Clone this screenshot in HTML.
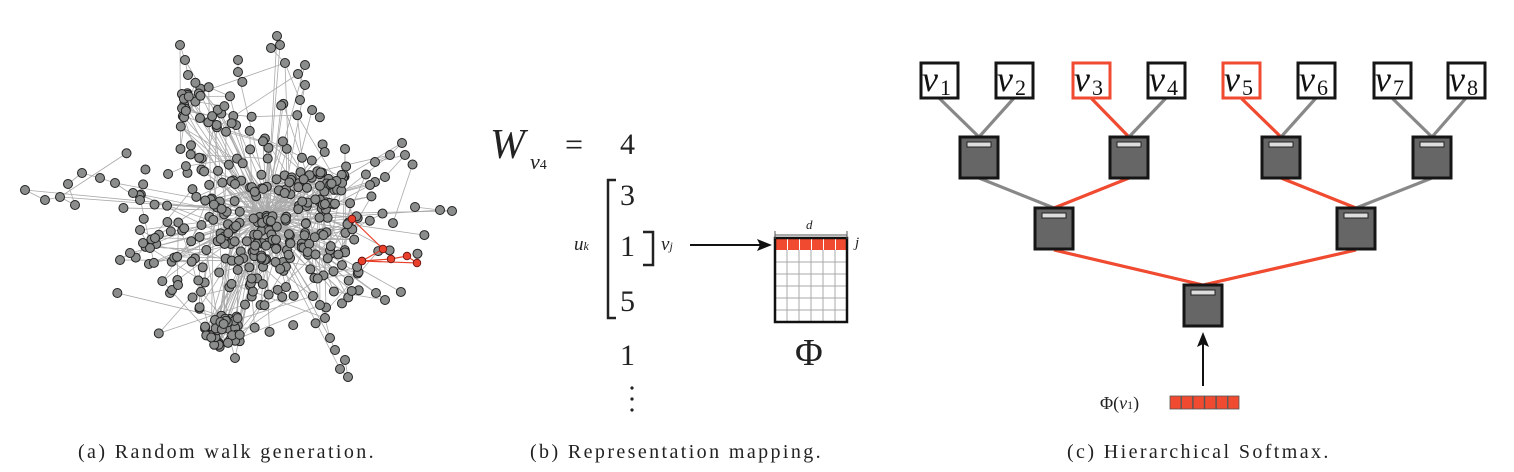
<!DOCTYPE html>
<html><head><meta charset="utf-8">
<style>
html,body{margin:0;padding:0;background:#fff;}
body{width:1514px;height:472px;position:relative;overflow:hidden;font-family:"Liberation Serif",serif;color:#222;}
.t{position:absolute;white-space:nowrap;line-height:1;}
.cap{position:absolute;top:441px;font-size:20px;letter-spacing:2.4px;white-space:nowrap;}
</style></head><body>
<svg id="g" width="1514" height="472" style="position:absolute;left:0;top:0">
<g id="graph"></g>
<g fill="none" stroke="#222" stroke-width="2.5">
<path d="M616,180 H608 V318 H616"/>
<path d="M643,232 H653 V265 H643"/>
</g>
<line x1="690" y1="245" x2="762" y2="245" stroke="#111" stroke-width="2"/>
<polygon points="772,245 757,239 760,245 757,251" fill="#111"/>
<g id="mat"></g>
<line x1="775" y1="235" x2="847" y2="235" stroke="#555" stroke-width="1"/>
<line x1="775" y1="231" x2="775" y2="239" stroke="#555"/>
<line x1="847" y1="231" x2="847" y2="239" stroke="#555"/>
<circle cx="632" cy="388" r="1.6" fill="#222"/><circle cx="632" cy="399" r="1.6" fill="#222"/><circle cx="632" cy="410" r="1.6" fill="#222"/>
<g id="tree"></g>
<line x1="1203" y1="386" x2="1203" y2="342" stroke="#111" stroke-width="2"/>
<polygon points="1203,332 1197,347 1203,344 1209,347" fill="#111"/>
</svg>

<div class="t" style="left:490px;top:124px;font-size:42px;font-style:italic;">W</div>
<div class="t" style="left:530px;top:151px;font-size:22px;font-style:italic;">v<span style="font-size:14px;font-style:normal">4</span></div>
<div class="t" style="left:565px;top:128px;font-size:32px;">=</div>
<div class="t" style="left:620px;top:130px;font-size:30px;">4</div>
<div class="t" style="left:620px;top:181px;font-size:30px;">3</div>
<div class="t" style="left:620px;top:232px;font-size:30px;">1</div>
<div class="t" style="left:620px;top:287px;font-size:30px;">5</div>
<div class="t" style="left:620px;top:341px;font-size:30px;">1</div>
<div class="t" style="left:574px;top:235px;font-size:19px;font-style:italic;">u<span style="font-size:12px">k</span></div>
<div class="t" style="left:661px;top:235px;font-size:19px;font-style:italic;">v<span style="font-size:12px">j</span></div>
<div class="t" style="left:806px;top:218px;font-size:13px;font-style:italic;">d</div>
<div class="t" style="left:855px;top:236px;font-size:15px;font-style:italic;">j</div>
<div class="t" style="left:795px;top:334px;font-size:38px;">Φ</div>
<div class="t" style="left:1100px;top:394px;font-size:18px;">Φ(<i>v</i><span style="font-size:12px">1</span>)</div>

<div class="cap" style="left:78px;">(a) Random walk generation.</div>
<div class="cap" style="left:530px;">(b) Representation mapping.</div>
<div class="cap" style="left:1067px;">(c) Hierarchical Softmax.</div>

<script>
var NS="http://www.w3.org/2000/svg";
function el(p,n,a){var e=document.createElementNS(NS,n);for(var k in a)e.setAttribute(k,a[k]);p.appendChild(e);return e;}
var m=document.getElementById('mat');
el(m,'rect',{x:775,y:238,width:72,height:84,fill:'#fff'});
for(var i=1;i<6;i++){el(m,'line',{x1:775+i*12,y1:250,x2:775+i*12,y2:322,stroke:'#aaa'});}
for(var j=1;j<6;j++){el(m,'line',{x1:775,y1:250+j*12,x2:847,y2:250+j*12,stroke:'#aaa'});}
for(var i=0;i<6;i++){el(m,'rect',{x:776+i*12,y:239,width:11,height:11,fill:'#f04a30'});}
el(m,'rect',{x:775,y:238,width:72,height:84,fill:'none',stroke:'#111','stroke-width':2.5});
var t=document.getElementById('tree');
var leaves=[939,1014,1091,1166,1241,1316,1392,1466];
var L1=[979,1129,1281,1432],L2=[1054,1356],R=1203;
var grey='#888',red='#f04a30';
function ln(x1,y1,x2,y2,c){el(t,'line',{x1:x1,y1:y1,x2:x2,y2:y2,stroke:c,'stroke-width':3.2});}
for(var i=0;i<8;i++){var p=L1[i>>1];var c=(i==2||i==4)?red:grey;ln(leaves[i],98,p,137,c);}
ln(979,178,1054,208,grey);ln(1129,178,1054,208,red);ln(1281,178,1356,208,red);ln(1432,178,1356,208,grey);
ln(1054,250,1203,285,red);ln(1356,250,1203,285,red);
function node(cx,y){el(t,'rect',{x:cx-19,y:y,width:38,height:41,fill:'#666',stroke:'#151515','stroke-width':3});
el(t,'rect',{x:cx-12,y:y+5,width:24,height:5,fill:'#ddd',stroke:'#222','stroke-width':1});}
L1.forEach(function(x){node(x,137)});L2.forEach(function(x){node(x,208)});node(R,285);
var lab=['1','2','3','4','5','6','7','8'];
for(var i=0;i<8;i++){var c=(i==2||i==4)?red:'#151515';
el(t,'rect',{x:leaves[i]-18,y:63,width:37,height:35,fill:'#fff',stroke:c,'stroke-width':3});
var tx=el(t,'text',{x:leaves[i]-17,y:91,'font-size':36,'font-style':'italic','font-family':'Liberation Serif, serif',fill:'#111'});tx.textContent='v';
var s=el(t,'text',{x:leaves[i]+1,y:95,'font-size':22,'font-family':'Liberation Serif, serif',fill:'#111'});s.textContent=lab[i];}
for(var i=0;i<6;i++){el(t,'rect',{x:1170+i*11.6,y:396,width:11,height:13,fill:'#f04a30',stroke:'#555','stroke-width':0.8});}
var g=document.getElementById('graph');var seed=7;function rnd(){seed=(seed*16807)%2147483647;return seed/2147483647;}
function gs(){return (rnd()+rnd()+rnd()+rnd()-2)*1.2;}
var N=[];var hub=[265,215];
for(var i=0;i<300;i++){N.push([262+gs()*80,222+gs()*68]);}
var br=[[[25,190],[45,200],[60,197],[75,205],[68,184]],[[82,173],[100,178],[115,183],[140,200],[133,193]],[[180,45],[185,60],[188,75],[238,60],[238,72]],[[277,36],[280,45],[271,48],[285,63]],[[300,100],[305,85],[298,74],[305,65]],[[402,143],[390,155],[375,162],[405,155]],[[385,177],[375,182],[370,185],[415,207],[440,210],[452,211]],[[215,320],[220,325],[230,340],[235,358],[345,360],[348,377],[340,369]],[[320,305],[325,318],[330,338],[335,350]],[[376,293],[385,300]],[[120,260],[130,253],[150,248]],[[140,230],[155,238],[143,243]],[[170,293],[172,290],[178,285]]];
br.forEach(function(b){b.forEach(function(q){N.push(q);});});
for(var i=0;i<30;i++){N.push([205+rnd()*35,318+rnd()*30]);}
for(var i=0;i<30;i++){N.push([300+rnd()*55,170+rnd()*35]);}
for(var i=0;i<25;i++){N.push([180+rnd()*50,80+rnd()*50]);}
var gg=el(g,'g',{stroke:'#aaa','stroke-width':0.8});
N.forEach(function(q,i){
 if(rnd()<0.45) el(gg,'line',{x1:q[0],y1:q[1],x2:hub[0]+gs()*6,y2:hub[1]+gs()*6});
 var k=Math.floor(rnd()*N.length);var o=N[k];
 if(Math.abs(o[0]-q[0])+Math.abs(o[1]-q[1])<140) el(gg,'line',{x1:q[0],y1:q[1],x2:o[0],y2:o[1]});
 if(i>0){var o2=N[i-1];if(Math.abs(o2[0]-q[0])+Math.abs(o2[1]-q[1])<60)el(gg,'line',{x1:q[0],y1:q[1],x2:o2[0],y2:o2[1]});}
});
N.forEach(function(q){el(g,'circle',{cx:q[0],cy:q[1],r:4.5,fill:'#8a8d8c',stroke:'#222','stroke-width':1});});
var rw=[[352,219],[383,249],[362,261],[391,259],[407,256],[417,263],[362,261]];
el(g,'polyline',{points:rw.map(function(p){return p.join(',')}).join(' '),fill:'none',stroke:'#e8402a','stroke-width':1.2});
rw.forEach(function(q){el(g,'circle',{cx:q[0],cy:q[1],r:3.8,fill:'#e8402a',stroke:'#611','stroke-width':0.8});});
</script>
</body></html>
